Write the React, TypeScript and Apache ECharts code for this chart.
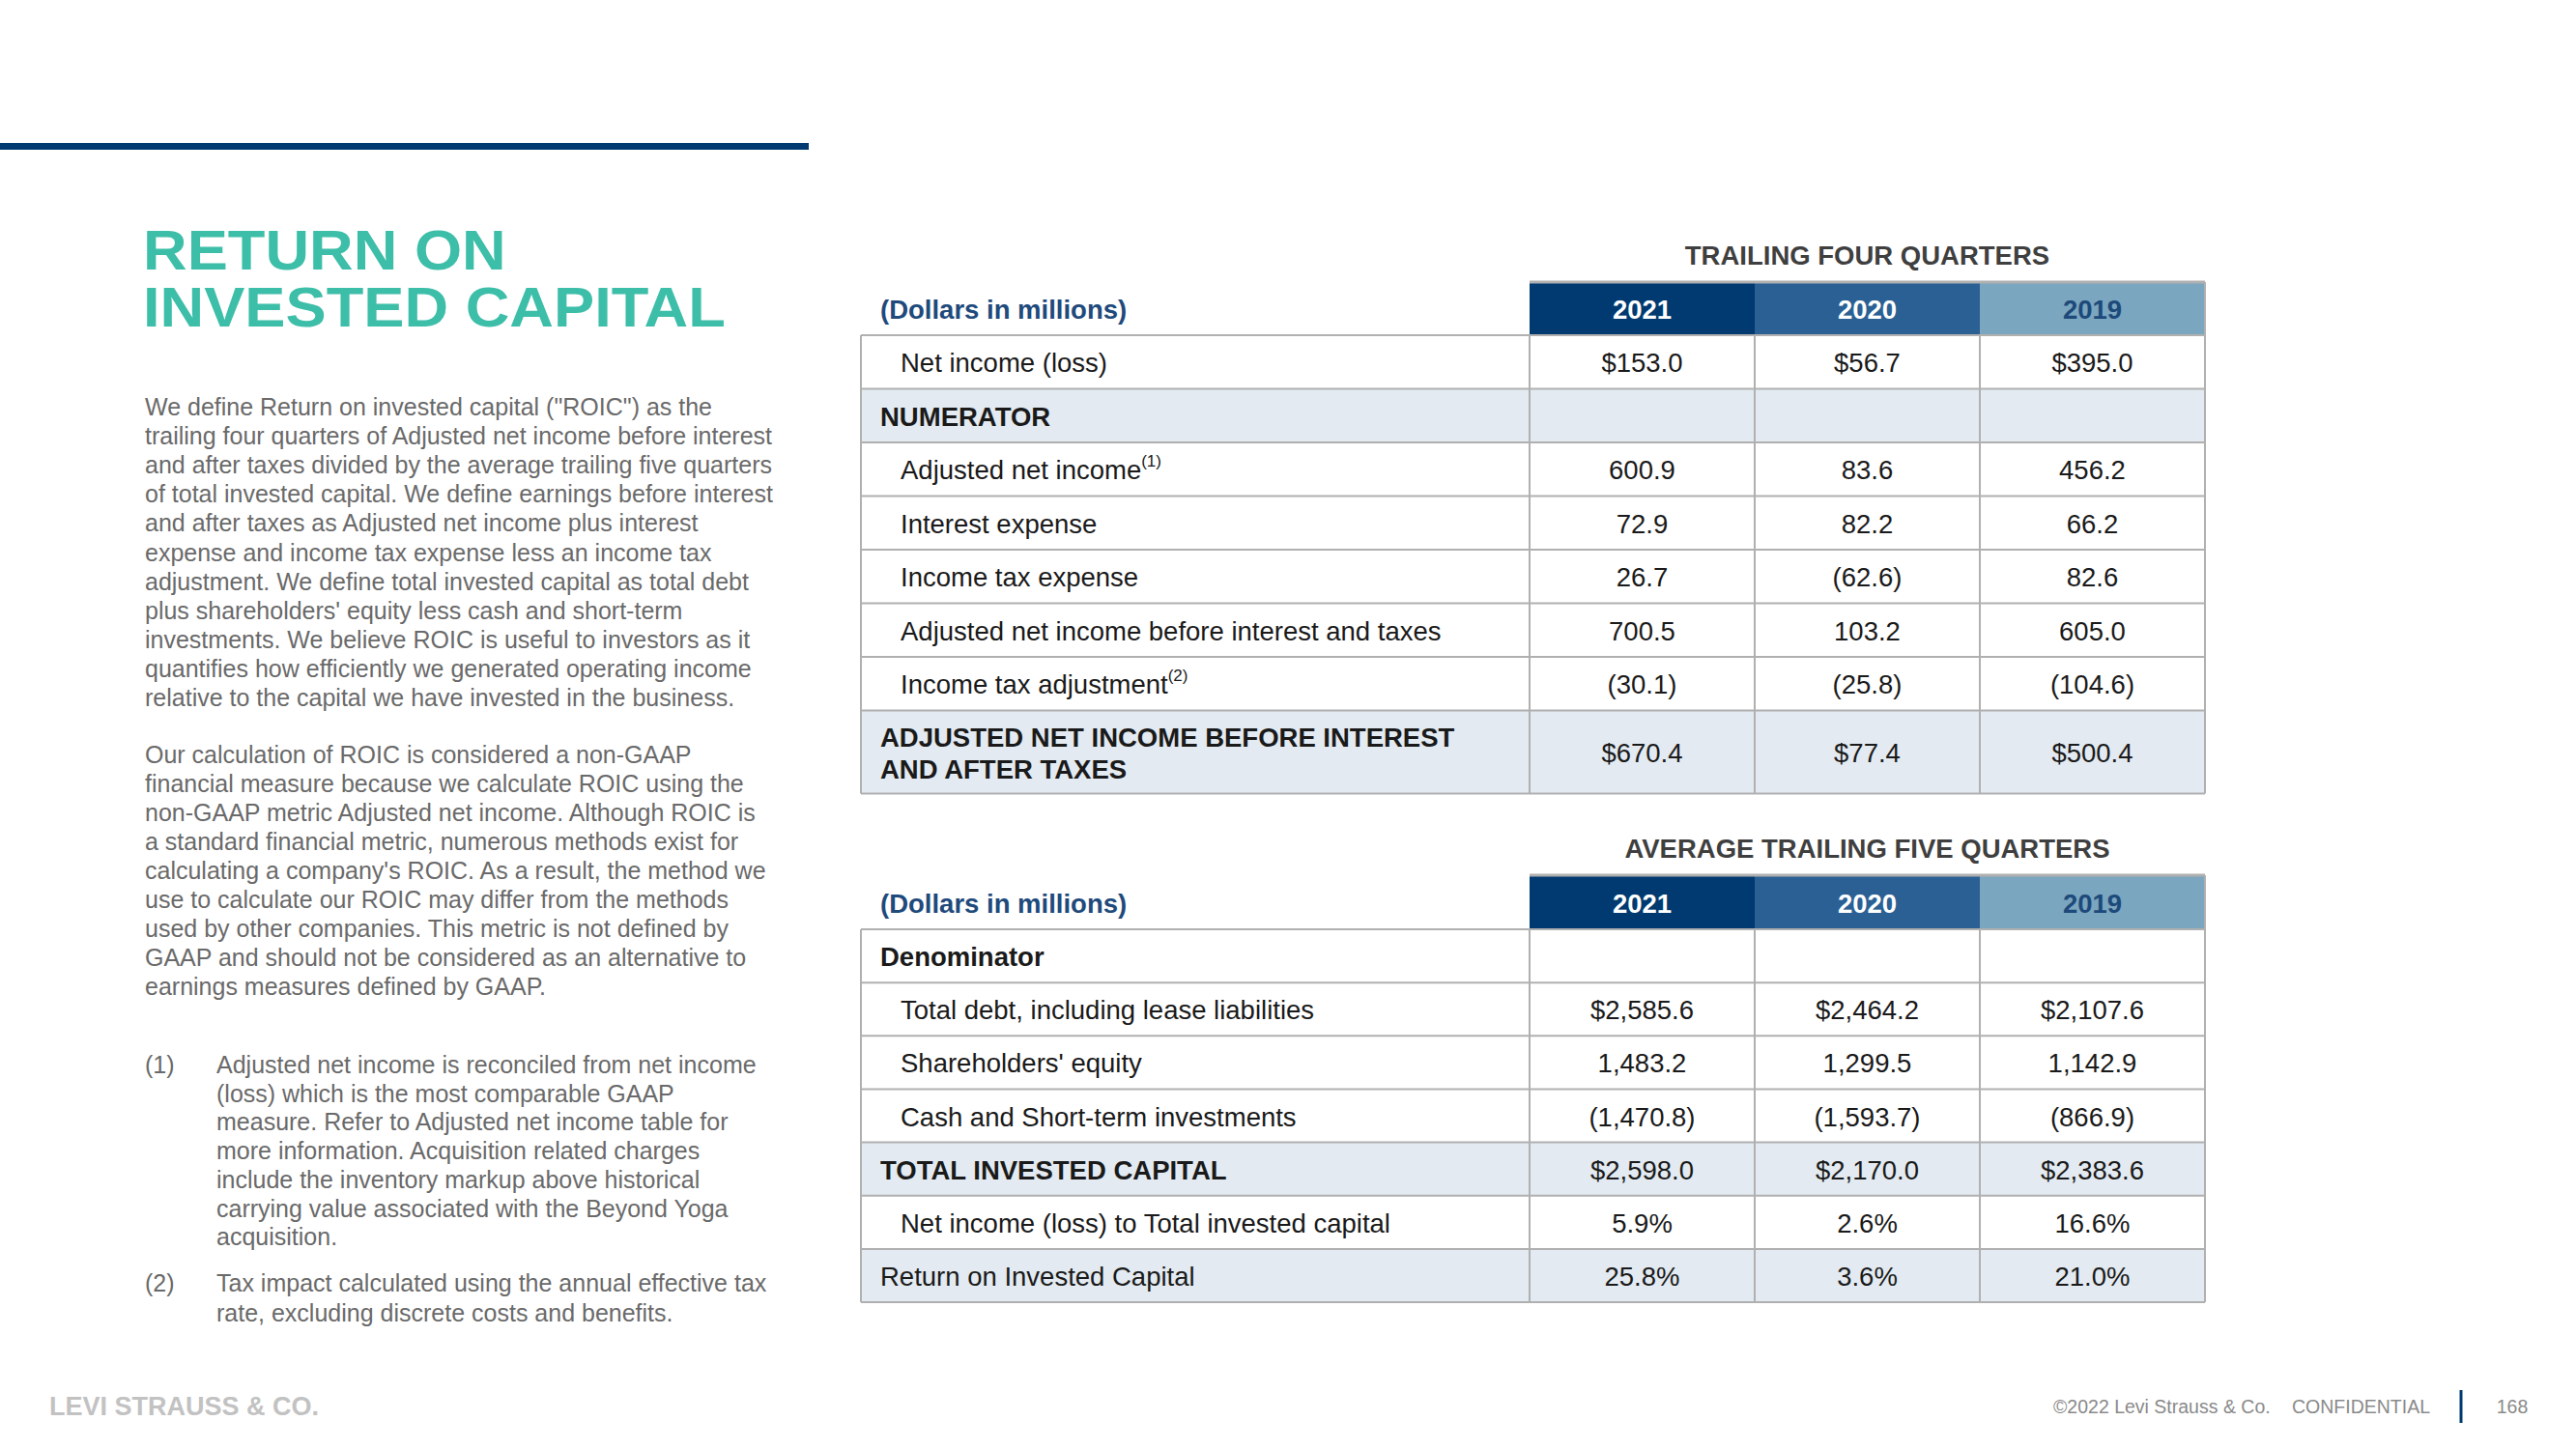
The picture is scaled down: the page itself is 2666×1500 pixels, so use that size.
import React, { useEffect, useRef } from 'react';
import * as echarts from 'echarts';

// ---------- DATA ----------
const YEARS = ['2021', '2020', '2019'];

const T1_TITLE = 'TRAILING FOUR QUARTERS';
const T1_LABELS = [
  'Net income (loss)',
  'NUMERATOR',
  'Adjusted net income',
  'Interest expense',
  'Income tax expense',
  'Adjusted net income before interest and taxes',
  'Income tax adjustment',
  'ADJUSTED NET INCOME BEFORE INTEREST\nAND AFTER TAXES',
];
const T1_NOTES = ['', '', '(1)', '', '', '', '(2)', ''];
const T1_2021 = ['$153.0', '', '600.9', '72.9', '26.7', '700.5', '(30.1)', '$670.4'];
const T1_2020 = ['$56.7', '', '83.6', '82.2', '(62.6)', '103.2', '(25.8)', '$77.4'];
const T1_2019 = ['$395.0', '', '456.2', '66.2', '82.6', '605.0', '(104.6)', '$500.4'];
const T1_KIND = ['item', 'section', 'item', 'item', 'item', 'item', 'item', 'total'];

const T2_TITLE = 'AVERAGE TRAILING FIVE QUARTERS';
const T2_LABELS = [
  'Denominator',
  'Total debt, including lease liabilities',
  "Shareholders' equity",
  'Cash and Short-term investments',
  'TOTAL INVESTED CAPITAL',
  'Net income (loss) to Total invested capital',
  'Return on Invested Capital',
];
const T2_NOTES = ['', '', '', '', '', '', ''];
const T2_2021 = ['', '$2,585.6', '1,483.2', '(1,470.8)', '$2,598.0', '5.9%', '25.8%'];
const T2_2020 = ['', '$2,464.2', '1,299.5', '(1,593.7)', '$2,170.0', '2.6%', '3.6%'];
const T2_2019 = ['', '$2,107.6', '1,142.9', '(866.9)', '$2,383.6', '16.6%', '21.0%'];
const T2_KIND = ['sectionWhite', 'item', 'item', 'item', 'total', 'item', 'plainShaded'];

const UNIT_LABEL = '(Dollars in millions)';

const TITLE_LINES = ['RETURN ON', 'INVESTED CAPITAL'];
const PARA1 = [
  'We define Return on invested capital ("ROIC") as the',
  'trailing four quarters of Adjusted net income before interest',
  'and after taxes divided by the average trailing five quarters',
  'of total invested capital. We define earnings before interest',
  'and after taxes as Adjusted net income plus interest',
  'expense and income tax expense less an income tax',
  'adjustment. We define total invested capital as total debt',
  "plus shareholders' equity less cash and short-term",
  'investments. We believe ROIC is useful to investors as it',
  'quantifies how efficiently we generated operating income',
  'relative to the capital we have invested in the business.',
];
const PARA2 = [
  'Our calculation of ROIC is considered a non-GAAP',
  'financial measure because we calculate ROIC using the',
  'non-GAAP metric Adjusted net income. Although ROIC is',
  'a standard financial metric, numerous methods exist for',
  "calculating a company's ROIC. As a result, the method we",
  'use to calculate our ROIC may differ from the methods',
  'used by other companies. This metric is not defined by',
  'GAAP and should not be considered as an alternative to',
  'earnings measures defined by GAAP.',
];
const FN_MARKS = ['(1)', '(2)'];
const FN1 = [
  'Adjusted net income is reconciled from net income',
  '(loss) which is the most comparable GAAP',
  'measure. Refer to Adjusted net income table for',
  'more information. Acquisition related charges',
  'include the inventory markup above historical',
  'carrying value associated with the Beyond Yoga',
  'acquisition.',
];
const FN2 = [
  'Tax impact calculated using the annual effective tax',
  'rate, excluding discrete costs and benefits.',
];
const FOOTER_LOGO = 'LEVI STRAUSS & CO.';
const FOOTER_COPY = '©2022 Levi Strauss & Co.';
const FOOTER_CONF = 'CONFIDENTIAL';
const FOOTER_PAGE = '168';

// ---------- STYLE ----------
const FONT = '"Liberation Sans", Arial, sans-serif';
const NAVY = '#003a70';
const HEAD_COLORS = ['#003a70', '#2a6094', '#7ba6bf'];
const HEAD_TEXT = ['#ffffff', '#ffffff', '#1d4a7a'];
const SHADE = '#e3eaf1';
const BORDER = '#b0b0b0';
const TEXT = '#1a1a1a';
const GREY_TEXT = '#6a6a6a';
const TEAL = '#3dbea9';
const TS = 27.5; // table font size

const COLS = [891, 1583, 1816, 2049, 2282];

function buildTable(
  top: number,
  headH: number,
  rowH: number,
  lastH: number,
  title: string,
  labels: string[],
  notes: string[],
  values: string[][],
  kinds: string[]
): any[] {
  const els: any[] = [];
  const L = COLS[0];
  const R = COLS[4];
  const headBottom = top + headH;
  els.push({
    type: 'text',
    z: 5,
    style: {
      x: (COLS[1] + COLS[4]) / 2,
      y: top - 28,
      text: title,
      font: `bold ${TS}px ${FONT}`,
      fill: '#3f3f3f',
      textAlign: 'center',
      textVerticalAlign: 'middle',
    },
  });
  els.push({
    type: 'text',
    z: 5,
    style: {
      x: L + 20,
      y: top + headH / 2 + 1,
      text: UNIT_LABEL,
      font: `bold ${TS}px ${FONT}`,
      fill: '#1f4a7c',
      textAlign: 'left',
      textVerticalAlign: 'middle',
    },
  });
  YEARS.forEach((yr, i) => {
    els.push({
      type: 'rect',
      z: 1,
      shape: { x: COLS[i + 1], y: top, width: COLS[i + 2] - COLS[i + 1], height: headH },
      style: { fill: HEAD_COLORS[i] },
    });
    els.push({
      type: 'text',
      z: 5,
      style: {
        x: (COLS[i + 1] + COLS[i + 2]) / 2,
        y: top + headH / 2 + 1,
        text: yr,
        font: `bold ${TS}px ${FONT}`,
        fill: HEAD_TEXT[i],
        textAlign: 'center',
        textVerticalAlign: 'middle',
      },
    });
  });
  els.push({
    type: 'line',
    z: 3,
    shape: { x1: COLS[1], y1: top, x2: R, y2: top },
    style: { stroke: BORDER, lineWidth: 3 },
  });
  els.push({
    type: 'line',
    z: 3,
    shape: { x1: R, y1: top, x2: R, y2: headBottom },
    style: { stroke: BORDER, lineWidth: 2 },
  });
  let y = headBottom;
  const bounds: number[] = [y];
  labels.forEach((lab, r) => {
    const h = r === labels.length - 1 && lastH ? lastH : rowH;
    const kind = kinds[r];
    const shaded = kind === 'section' || kind === 'total' || kind === 'plainShaded';
    if (shaded) {
      els.push({
        type: 'rect',
        z: 1,
        shape: { x: L, y, width: R - L, height: h },
        style: { fill: SHADE },
      });
    }
    const bold = kind === 'section' || kind === 'total' || kind === 'sectionWhite';
    const indent = kind === 'item' ? 41 : 20;
    const cy = y + h / 2 + 1;
    const fontSpec = `${bold ? 'bold ' : ''}${TS}px ${FONT}`;
    if (notes[r]) {
      els.push({
        type: 'text',
        z: 5,
        style: {
          x: L + indent,
          y: cy,
          text: `{a|${lab}}{s|${notes[r]}}`,
          textAlign: 'left',
          textVerticalAlign: 'middle',
          rich: {
            a: { font: fontSpec, fill: TEXT, lineHeight: 36 },
            s: { font: `17px ${FONT}`, fill: TEXT, lineHeight: 36, verticalAlign: 'top' },
          },
        },
      });
    } else {
      els.push({
        type: 'text',
        z: 5,
        style: {
          x: L + indent,
          y: cy,
          text: lab,
          font: fontSpec,
          fill: TEXT,
          lineHeight: 33,
          textAlign: 'left',
          textVerticalAlign: 'middle',
        },
      });
    }
    values.forEach((col, c) => {
      if (!col[r]) return;
      els.push({
        type: 'text',
        z: 5,
        style: {
          x: (COLS[c + 1] + COLS[c + 2]) / 2,
          y: cy,
          text: col[r],
          font: `${TS}px ${FONT}`,
          fill: TEXT,
          textAlign: 'center',
          textVerticalAlign: 'middle',
        },
      });
    });
    y += h;
    bounds.push(y);
  });
  bounds.forEach((b) => {
    els.push({
      type: 'line',
      z: 3,
      shape: { x1: L, y1: b, x2: R, y2: b },
      style: { stroke: BORDER, lineWidth: 2 },
    });
  });
  COLS.forEach((cx) => {
    els.push({
      type: 'line',
      z: 3,
      shape: { x1: cx, y1: headBottom, x2: cx, y2: y },
      style: { stroke: BORDER, lineWidth: 2 },
    });
  });
  return els;
}

function textBlock(lines: string[], x: number, firstCenter: number, lh: number, size: number, color: string): any {
  return {
    type: 'text',
    z: 5,
    style: {
      x,
      y: firstCenter - lh / 2,
      text: lines.join('\n'),
      font: `${size}px ${FONT}`,
      fill: color,
      lineHeight: lh,
      textAlign: 'left',
      textVerticalAlign: 'top',
    },
  };
}

export default function App() {
  const ref = useRef<HTMLDivElement>(null);
  useEffect(() => {
    if (!ref.current) return;
    const chart = echarts.init(ref.current, undefined, { renderer: 'svg' });
    const graphic: any[] = [];
    graphic.push({
      type: 'rect',
      z: 1,
      shape: { x: 0, y: 148, width: 837, height: 7 },
      style: { fill: NAVY },
    });
    TITLE_LINES.forEach((t, i) => {
      graphic.push({
        type: 'text',
        z: 5,
        x: 148,
        y: 259 + i * 59,
        scaleX: 1.09,
        style: {
          x: 0,
          y: 0,
          text: t,
          font: `bold 58px ${FONT}`,
          fill: TEAL,
          textAlign: 'left',
          textVerticalAlign: 'middle',
        },
      });
    });
    graphic.push(textBlock(PARA1, 150, 421, 30.1, 25, GREY_TEXT));
    graphic.push(textBlock(PARA2, 150, 781, 30, 25, GREY_TEXT));
    graphic.push(textBlock([FN_MARKS[0]], 150, 1102, 30, 25, GREY_TEXT));
    graphic.push(textBlock(FN1, 224, 1102, 29.7, 25, GREY_TEXT));
    graphic.push(textBlock([FN_MARKS[1]], 150, 1328, 30, 25, GREY_TEXT));
    graphic.push(textBlock(FN2, 224, 1328, 30.5, 25, GREY_TEXT));

    graphic.push(
      ...buildTable(292, 55, 55.5, 86, T1_TITLE, T1_LABELS, T1_NOTES, [T1_2021, T1_2020, T1_2019], T1_KIND)
    );
    graphic.push(
      ...buildTable(906, 56, 55.15, 0, T2_TITLE, T2_LABELS, T2_NOTES, [T2_2021, T2_2020, T2_2019], T2_KIND)
    );

    graphic.push({
      type: 'text',
      z: 5,
      style: {
        x: 51,
        y: 1456,
        text: FOOTER_LOGO,
        font: `bold 27px ${FONT}`,
        fill: '#c2c2c2',
        textAlign: 'left',
        textVerticalAlign: 'middle',
      },
    });
    graphic.push({
      type: 'text',
      z: 5,
      style: {
        x: 2125,
        y: 1456,
        text: FOOTER_COPY,
        font: `19.5px ${FONT}`,
        fill: '#8a8a8a',
        textAlign: 'left',
        textVerticalAlign: 'middle',
      },
    });
    graphic.push({
      type: 'text',
      z: 5,
      style: {
        x: 2372,
        y: 1456,
        text: FOOTER_CONF,
        font: `19.5px ${FONT}`,
        fill: '#8a8a8a',
        textAlign: 'left',
        textVerticalAlign: 'middle',
      },
    });
    graphic.push({
      type: 'line',
      z: 5,
      shape: { x1: 2547, y1: 1439, x2: 2547, y2: 1473 },
      style: { stroke: NAVY, lineWidth: 3 },
    });
    graphic.push({
      type: 'text',
      z: 5,
      style: {
        x: 2600,
        y: 1456,
        text: FOOTER_PAGE,
        font: `19.5px ${FONT}`,
        fill: '#8a8a8a',
        textAlign: 'center',
        textVerticalAlign: 'middle',
      },
    });

    chart.setOption({
      animation: false,
      backgroundColor: '#ffffff',
      graphic,
    });
    return () => chart.dispose();
  }, []);
  return (
    <div
      ref={ref}
      style={{ position: 'absolute', left: 0, top: 0, width: 2666, height: 1500, background: '#fff' }}
    />
  );
}
